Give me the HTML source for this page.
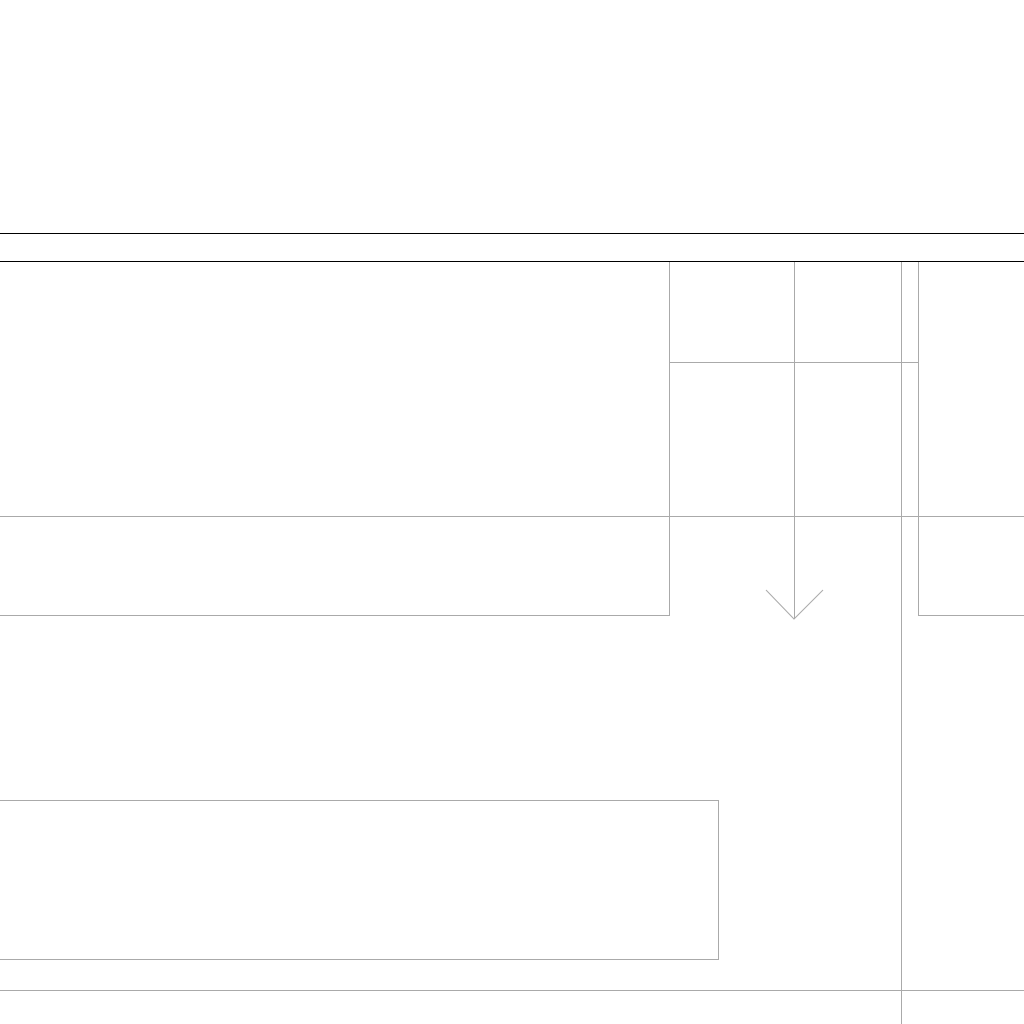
<!DOCTYPE html>
<html><head><style>html,body{margin:0;padding:0;background:#fff}</style></head>
<body>
<svg width="1024" height="1024" xmlns="http://www.w3.org/2000/svg" style="display:block">
<rect width="1024" height="1024" fill="#fff"/>
<g stroke="#000" stroke-width="1" shape-rendering="crispEdges">
<line x1="0" y1="233.5" x2="1024" y2="233.5"/>
<line x1="0" y1="261.5" x2="1024" y2="261.5"/>
</g>
<g stroke="#aaa" stroke-width="1" fill="none" shape-rendering="crispEdges">
<line x1="669.5" y1="262" x2="669.5" y2="615"/>
<line x1="794.5" y1="262" x2="794.5" y2="619"/>
<line x1="901.5" y1="262" x2="901.5" y2="1024"/>
<line x1="918.5" y1="262" x2="918.5" y2="615"/>
<line x1="669" y1="362.5" x2="918" y2="362.5"/>
<line x1="0" y1="516.5" x2="1024" y2="516.5"/>
<line x1="0" y1="615.5" x2="670" y2="615.5"/>
<line x1="918" y1="615.5" x2="1024" y2="615.5"/>
<rect x="-1" y="800.5" width="719.5" height="159"/>
<line x1="0" y1="990.5" x2="1024" y2="990.5"/>
</g>
<polyline points="766,590 794,619 823,590" stroke="#aaa" stroke-width="1" fill="none"/>
</svg>
</body></html>
